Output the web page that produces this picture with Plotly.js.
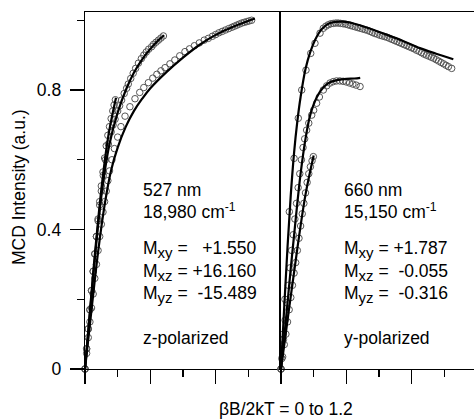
<!DOCTYPE html>
<html>
<head>
<meta charset="utf-8">
<script src="https://cdn.plot.ly/plotly-3.0.1.min.js"></script>
<style>html,body{margin:0;padding:0;background:#fff;}#chart{width:474px;height:420px;}</style>
</head>
<body>
<div id="chart"></div>
<script>
// ---- Left panel (527 nm) ----
const l1X = [0.000,0.010,0.020,0.030,0.040,0.050,0.060,0.070,0.080,0.090,0.100,0.110,0.120,0.130,0.140,0.150,0.165,0.180,0.200,0.220,0.245,0.275,0.306,0.335,0.360,0.388,0.415,0.440,0.465,0.490,0.520,0.550,0.580,0.612,0.640,0.670,0.700,0.730,0.755,0.780,0.800,0.820,0.840,0.860,0.880,0.900,0.915,0.930,0.945,0.960,0.975,0.990,1.005,1.020];
const l1Y = [0.000,0.045,0.090,0.135,0.175,0.215,0.260,0.300,0.340,0.380,0.415,0.450,0.480,0.510,0.540,0.568,0.600,0.632,0.665,0.695,0.725,0.752,0.775,0.793,0.807,0.821,0.834,0.845,0.855,0.864,0.875,0.886,0.898,0.910,0.918,0.927,0.935,0.943,0.948,0.954,0.959,0.964,0.968,0.972,0.976,0.980,0.983,0.986,0.989,0.992,0.994,0.996,0.998,1.000];
const l1FitX = [0,0.04,0.08,0.12,0.16,0.20,0.25,0.30,0.35,0.40,0.50,0.60,0.70,0.80,0.90,1.04];
const l1FitY = [0,0.170,0.335,0.470,0.570,0.635,0.695,0.740,0.775,0.805,0.852,0.893,0.929,0.958,0.980,1.005];

const l2X = [0,0.01,0.02,0.03,0.04,0.05,0.06,0.07,0.08,0.09,0.10,0.112,0.125,0.143,0.160,0.172,0.184,0.200,0.212,0.224,0.240,0.255,0.265,0.280,0.295,0.310,0.327,0.345,0.360,0.375,0.390,0.408,0.420,0.435,0.450,0.465,0.480];
const l2Y = [0,0.058,0.115,0.170,0.225,0.280,0.330,0.380,0.425,0.470,0.510,0.555,0.600,0.645,0.680,0.700,0.716,0.740,0.755,0.771,0.790,0.805,0.817,0.833,0.848,0.862,0.877,0.890,0.900,0.909,0.917,0.924,0.931,0.937,0.943,0.949,0.955];
const l2FitX = [0,0.05,0.10,0.15,0.20,0.25,0.30,0.35,0.40,0.45,0.485];
const l2FitY = [0,0.265,0.495,0.645,0.735,0.800,0.850,0.888,0.918,0.943,0.957];

const l3X = [0,0.01,0.02,0.03,0.04,0.05,0.06,0.07,0.08,0.09,0.10,0.11,0.12,0.13,0.14,0.15,0.16,0.17,0.178,0.186];
const l3Y = [0,0.058,0.115,0.170,0.225,0.280,0.330,0.380,0.430,0.480,0.525,0.565,0.605,0.640,0.670,0.695,0.718,0.740,0.757,0.772];
const l3FitX = [0,0.05,0.10,0.14,0.17,0.19];
const l3FitY = [0,0.275,0.515,0.660,0.735,0.778];

// ---- Right panel (660 nm) ----
const r1X = [0,0.014,0.024,0.051,0.080,0.106,0.127,0.153,0.182,0.208,0.239,0.259,0.275,0.290,0.305,0.320,0.335,0.350,0.365,0.380,0.395,0.410,0.425,0.440,0.455,0.470,0.485,0.500,0.515,0.530,0.545,0.560,0.575,0.590,0.605,0.620,0.635,0.650,0.665,0.680,0.695,0.710,0.725,0.740,0.755,0.770,0.785,0.800,0.815,0.830,0.845,0.860,0.875,0.890,0.905,0.920,0.935,0.950,0.965,0.980,0.995,1.010,1.025,1.045];
const r1Y = [0,0.100,0.200,0.451,0.604,0.719,0.800,0.857,0.905,0.934,0.963,0.977,0.983,0.987,0.990,0.991,0.992,0.992,0.991,0.990,0.989,0.987,0.985,0.983,0.981,0.979,0.977,0.975,0.973,0.971,0.968,0.965,0.962,0.960,0.957,0.955,0.953,0.951,0.948,0.945,0.942,0.939,0.936,0.933,0.930,0.927,0.924,0.921,0.918,0.914,0.911,0.907,0.903,0.900,0.897,0.894,0.891,0.887,0.883,0.879,0.875,0.871,0.867,0.862];
const r1FitX = [0,0.02,0.04,0.06,0.08,0.10,0.12,0.15,0.18,0.21,0.25,0.30,0.38,0.45,0.55,0.65,0.75,0.85,0.95,1.055];
const r1FitY = [0,0.180,0.350,0.500,0.620,0.710,0.780,0.860,0.910,0.945,0.975,0.992,0.996,0.990,0.975,0.958,0.940,0.920,0.904,0.888];

const r2X = [0,0.005,0.015,0.025,0.035,0.045,0.055,0.065,0.075,0.085,0.095,0.105,0.115,0.125,0.135,0.145,0.157,0.170,0.188,0.200,0.218,0.235,0.259,0.280,0.300,0.320,0.340,0.360,0.380,0.400,0.420,0.440,0.460,0.484];
const r2Y = [0,0.030,0.085,0.140,0.190,0.240,0.290,0.340,0.385,0.430,0.475,0.520,0.560,0.600,0.635,0.660,0.685,0.705,0.728,0.742,0.762,0.780,0.800,0.812,0.820,0.824,0.826,0.826,0.825,0.823,0.820,0.817,0.814,0.810];
const r2FitX = [0,0.03,0.06,0.09,0.12,0.15,0.18,0.22,0.26,0.30,0.35,0.40,0.45,0.485];
const r2FitY = [0,0.140,0.290,0.430,0.560,0.660,0.730,0.780,0.808,0.822,0.829,0.832,0.833,0.835];

const r3X = [0,0.01,0.02,0.03,0.04,0.05,0.06,0.07,0.08,0.09,0.10,0.11,0.12,0.13,0.14,0.15,0.16,0.17,0.18,0.19,0.198];
const r3Y = [0,0.035,0.070,0.100,0.135,0.170,0.205,0.240,0.275,0.305,0.340,0.375,0.410,0.445,0.475,0.505,0.535,0.560,0.580,0.597,0.609];
const r3FitX = [0,0.05,0.10,0.15,0.20];
const r3FitY = [0,0.175,0.345,0.500,0.612];

const yTickVals = [0, 0.4, 0.8];
const yTickText = ['0', '0.4', '0.8'];

const NB = '\u00a0';
function sub(s) { return '<sub><span style="font-size:15px">' + s + '</span></sub>'; }
const leftText = ['527 nm', '18,980 cm<sup>-1</sup>',
  'M' + sub('xy') + ' =' + NB + NB + NB + '+1.550',
  'M' + sub('xz') + ' =' + NB + '+16.160',
  'M' + sub('yz') + ' =' + NB + NB + '-15.489',
  'z-polarized'];
const rightText = ['660 nm', '15,150 cm<sup>-1</sup>',
  'M' + sub('xy') + ' =' + NB + '+1.787',
  'M' + sub('xz') + ' =' + NB + NB + '-0.055',
  'M' + sub('yz') + ' =' + NB + NB + '-0.316',
  'y-polarized'];
const textYs = [0.513, 0.453, 0.342, 0.276, 0.213, 0.089];

function pts(x, y, xa, ya) {
  return {x: x, y: y, xaxis: xa, yaxis: ya, type: 'scatter', mode: 'markers', cliponaxis: false,
    marker: {symbol: 'circle-open', size: 6.5, color: '#555', line: {width: 1, color: '#555'}}, hoverinfo: 'skip'};
}
function fit(x, y, xa, ya) {
  return {x: x, y: y, xaxis: xa, yaxis: ya, type: 'scatter', mode: 'lines',
    line: {color: 'black', width: 2.2, shape: 'spline'}, hoverinfo: 'skip'};
}

const traces = [
  pts(l1X, l1Y, 'x', 'y'), pts(l2X, l2Y, 'x', 'y'), pts(l3X, l3Y, 'x', 'y'),
  fit(l1FitX, l1FitY, 'x', 'y'), fit(l2FitX, l2FitY, 'x', 'y'), fit(l3FitX, l3FitY, 'x', 'y'),
  pts(r1X, r1Y, 'x2', 'y2'), pts(r2X, r2Y, 'x2', 'y2'), pts(r3X, r3Y, 'x2', 'y2'),
  fit(r1FitX, r1FitY, 'x2', 'y2'), fit(r2FitX, r2FitY, 'x2', 'y2'), fit(r3FitX, r3FitY, 'x2', 'y2')
];

const D = 196 / 389;
const yMax = 357 / 348.75;
const xAxisBase = {showline: true, linecolor: 'black', linewidth: 1.3, mirror: true,
  ticks: 'outside', ticklen: 14, tickwidth: 1.3, tickcolor: 'black', tick0: 0, dtick: 0.4,
  showticklabels: false, showgrid: false, zeroline: false,
  minor: {tick0: 0, dtick: 0.2, ticks: 'outside', ticklen: 7, tickwidth: 1.3, tickcolor: 'black', showgrid: false}};

const FS = 17.5;
const annotations = [];
leftText.forEach((t, i) => annotations.push({xref: 'x', yref: 'y', x: 0.343, y: textYs[i], text: t,
  showarrow: false, xanchor: 'left', yanchor: 'middle', font: {size: FS}}));
rightText.forEach((t, i) => annotations.push({xref: 'x2', yref: 'y2', x: 0.373, y: textYs[i], text: t,
  showarrow: false, xanchor: 'left', yanchor: 'middle', font: {size: FS}}));
annotations.push({xref: 'paper', yref: 'paper', x: (286 - 85) / 389, y: (369 - 409) / 357,
  text: '\u03b2B/2kT = 0 to 1.2', showarrow: false, xanchor: 'center', yanchor: 'middle', font: {size: FS}});
annotations.push({xref: 'paper', yref: 'paper', x: (19 - 85) / 389, y: (369 - 187) / 357,
  text: 'MCD Intensity (a.u.)', textangle: -90, showarrow: false, xanchor: 'center', yanchor: 'middle', font: {size: FS}});

const layout = {
  width: 474, height: 420,
  margin: {l: 85, r: 0, t: 12, b: 51, pad: 0},
  paper_bgcolor: 'white', plot_bgcolor: 'white', showlegend: false,
  font: {family: '"Liberation Sans", Arial, sans-serif', size: FS, color: 'black'},
  xaxis: Object.assign({}, xAxisBase, {domain: [0, D], range: [0, 1.2], anchor: 'y'}),
  xaxis2: Object.assign({}, xAxisBase, {domain: [D, 1], range: [0, 193 / 163.33], anchor: 'y2'}),
  yaxis: {domain: [0, 1], range: [0, yMax], anchor: 'x', showline: true, linecolor: 'black', linewidth: 1.3,
    ticks: 'outside', ticklen: 14, tickwidth: 1.3, tickcolor: 'black', tickvals: yTickVals, ticktext: yTickText,
    ticklabelstandoff: 5, showgrid: false, zeroline: false,
    minor: {tickvals: [0.2, 0.6, 1.0], ticks: 'outside', ticklen: 7, tickwidth: 1.3, tickcolor: 'black', showgrid: false}},
  yaxis2: {domain: [0, 1], range: [0, yMax], anchor: 'x2', showline: true, linecolor: 'black', linewidth: 1.8,
    ticks: '', showticklabels: false, showgrid: false, zeroline: false},
  annotations: annotations
};

Plotly.newPlot('chart', traces, layout, {staticPlot: true, displayModeBar: false});
</script>
</body>
</html>
